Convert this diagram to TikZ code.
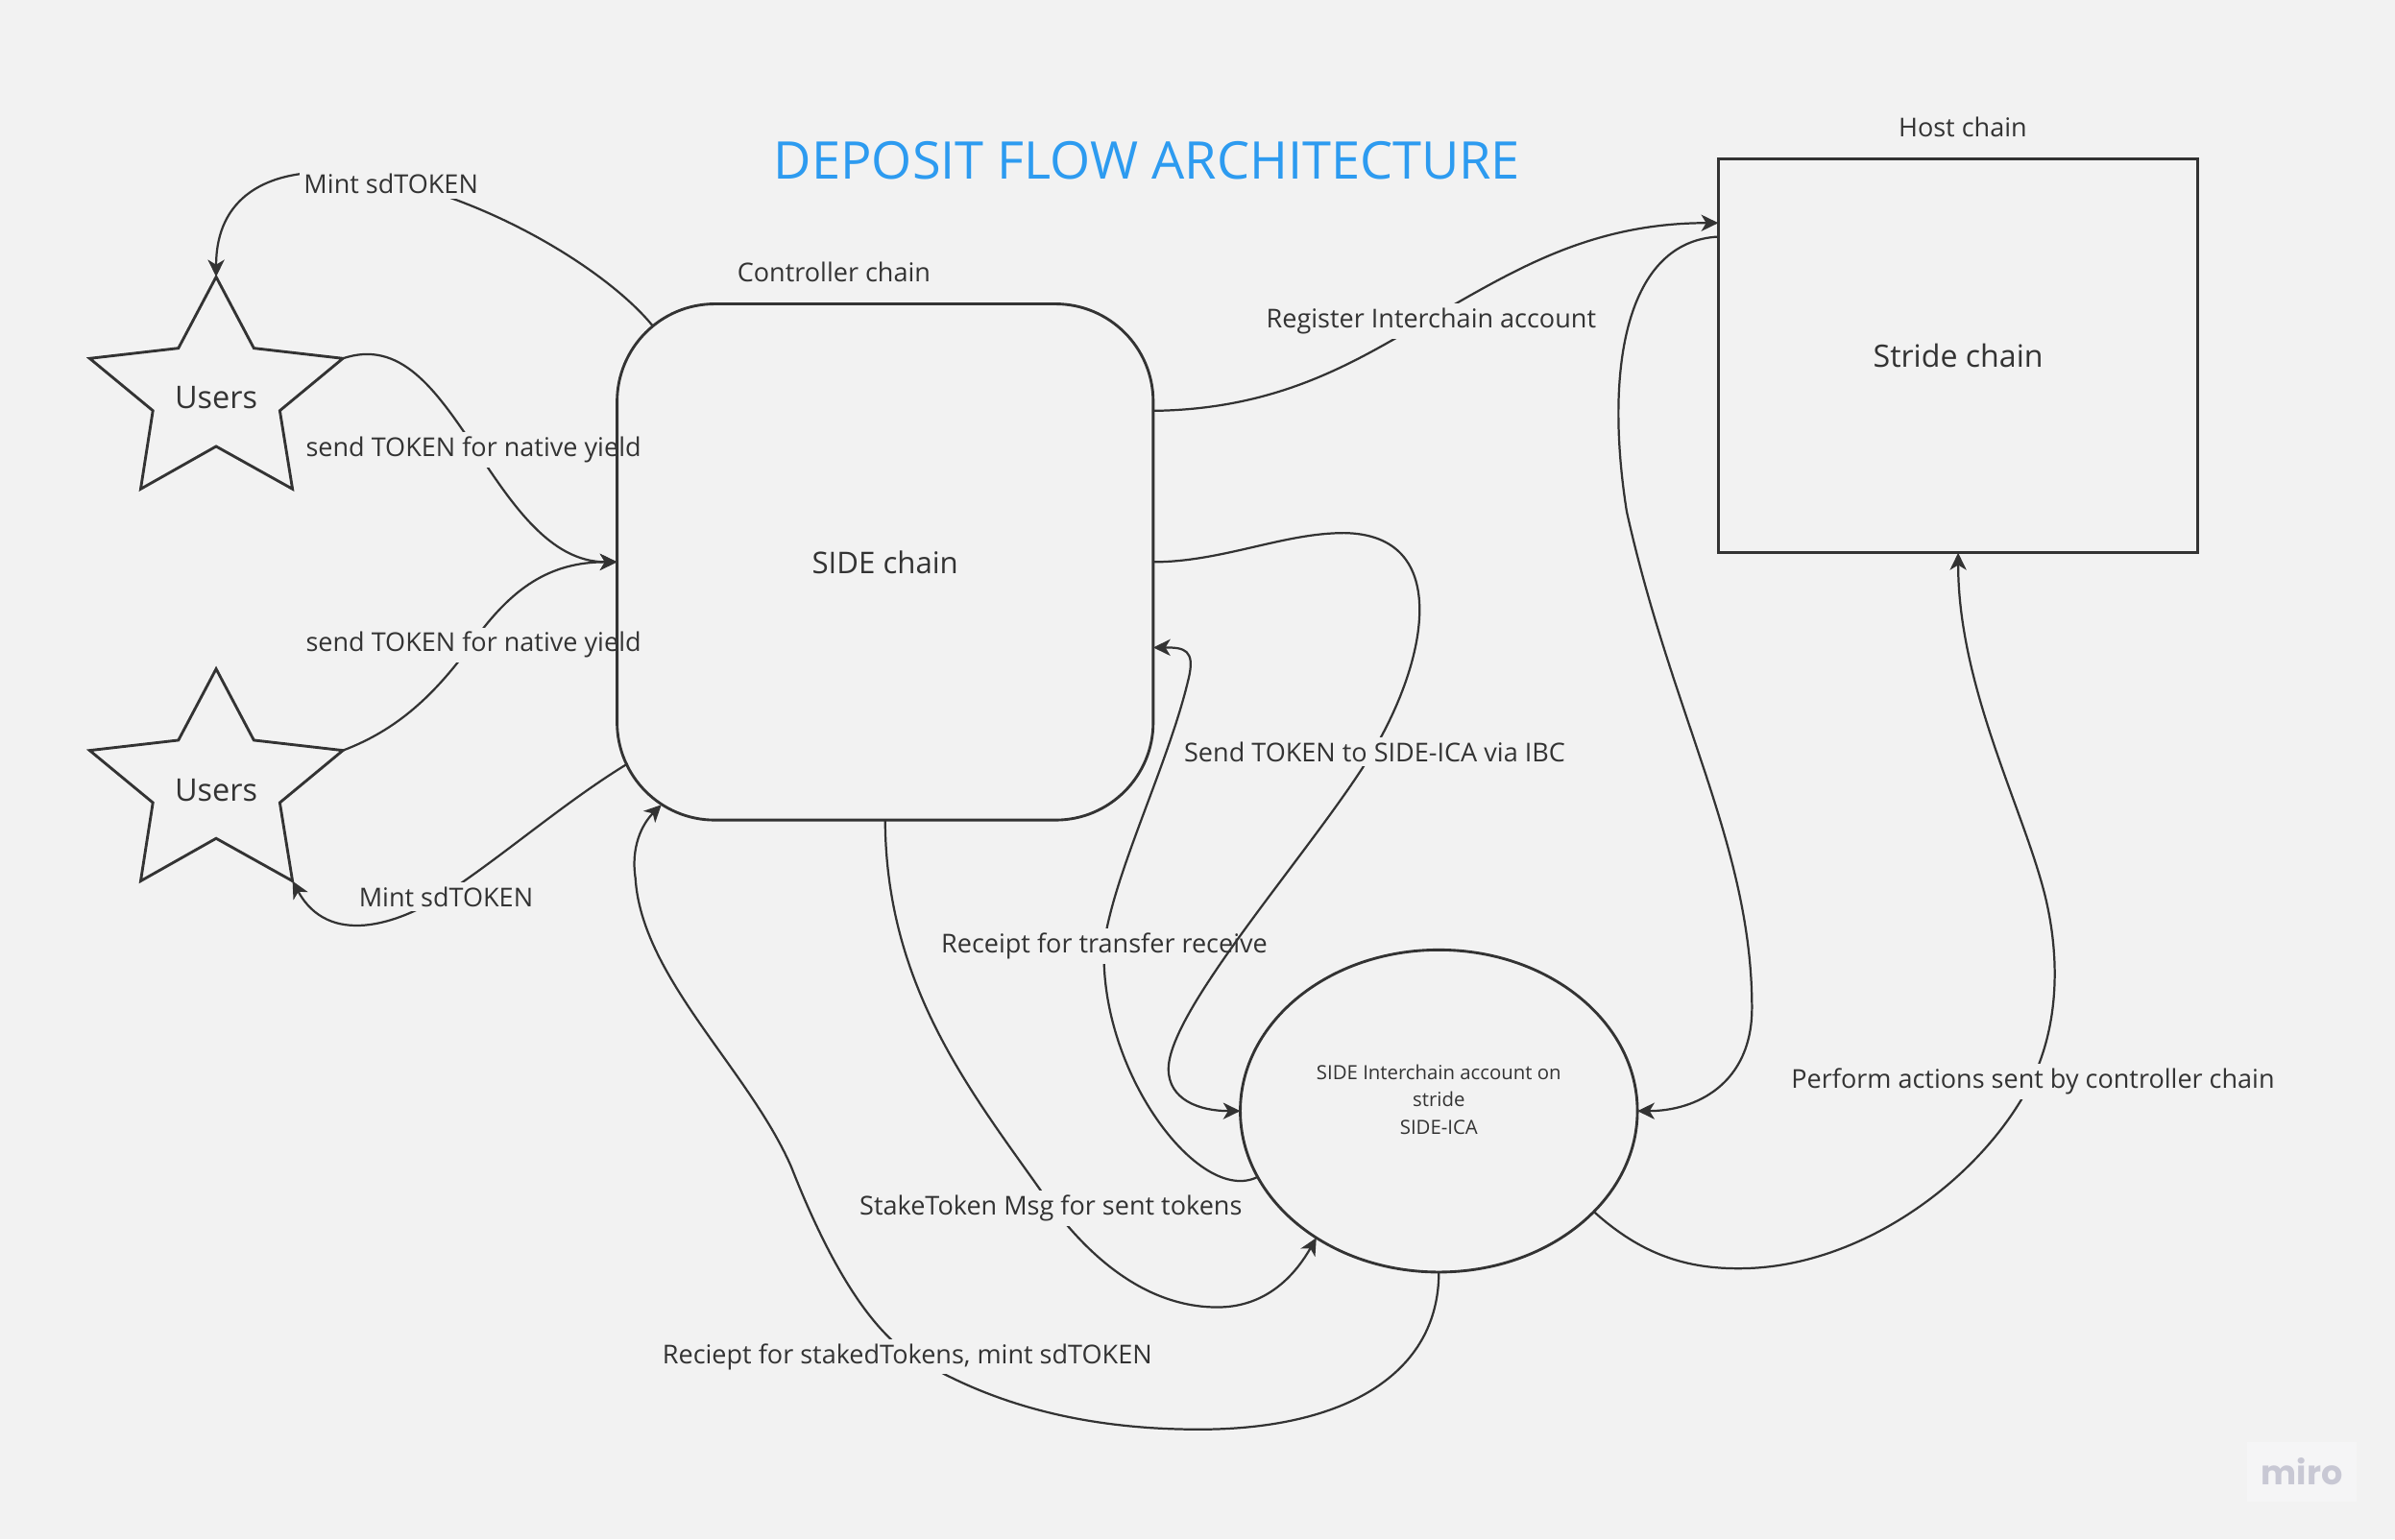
\documentclass[tikz,border=0pt]{standalone}
\usepackage{fontspec}
\setmainfont{Open Sans}
\newfontfamily\wmfont{Poppins}
\usetikzlibrary{arrows.meta,shapes.geometric,calc}
\definecolor{bgc}{RGB}{242,242,242}
\definecolor{ink}{RGB}{51,51,51}
\definecolor{titleblue}{RGB}{45,155,240}
\definecolor{wmtext}{RGB}{200,200,212}
\definecolor{wmbox}{RGB}{245,245,246}
\pgfdeclarelayer{back}
\pgfsetlayers{back,main}
\newcommand\userstar[2]{%
  \begin{scope}[shift={(0,#2)}]
    \coordinate (#1top) at (141.5,181.3);
    \coordinate (#1iur) at (166.2,228);
    \coordinate (#1rt) at (224.5,234.7);
    \coordinate (#1ir) at (183.2,268.9);
    \coordinate (#1br) at (191.5,320.2);
    \coordinate (#1ib) at (141.5,292.3);
    \coordinate (#1bl) at (92.1,320.2);
    \coordinate (#1il) at (100.1,268.9);
    \coordinate (#1lt) at (58.7,234.7);
    \coordinate (#1iul) at (116.8,228);
    \draw[shp] (#1top) -- (#1iur) -- (#1rt) -- (#1ir) -- (#1br) -- (#1ib) -- (#1bl) -- (#1il) -- (#1lt) -- (#1iul) -- cycle;
    \node[font=\fontsize{10.2pt}{12pt}\selectfont, text=ink] (#1text) at (141.5,260.5) {Users};
  \end{scope}}
\begin{document}
\begin{tikzpicture}[x=0.5pt,y=-0.5pt,
  conn/.style={draw=ink, line width=0.7pt},
  arr/.style={-{Stealth[length=5.6pt,width=5.4pt,inset=1.6pt]}},
  lbl/.style={fill=bgc, inner sep=1.5pt, text=ink, yshift=-1.2pt, font=\fontsize{8.5pt}{10pt}\selectfont},
  shp/.style={draw=ink, line width=0.9pt, outer sep=0pt},
  plain/.style={text=ink, yshift=-0.6pt, font=\fontsize{8.5pt}{10pt}\selectfont}]
\useasboundingbox (0,0) rectangle (1568,1008);
\begin{pgfonlayer}{back}
\fill[bgc] (0,0) rectangle (1568,1008);
\end{pgfonlayer}

% title and captions
\node[text=titleblue, yshift=-0.6pt, font=\fontsize{17pt}{20pt}\selectfont] (title) at (751,104) {DEPOSIT FLOW ARCHITECTURE};
\node[plain] (ctrl) at (546,177) {Controller chain};
\node[plain] (host) at (1285,82) {Host chain};

% shapes
\node[shp, rectangle, rounded corners=32pt, minimum width=175.5pt, minimum height=169pt, font=\fontsize{9.8pt}{12pt}\selectfont, text=ink] (side) at (579.5,368) {\raisebox{-0.6pt}{SIDE chain}};
\node[shp, rectangle, minimum width=157pt, minimum height=129pt, font=\fontsize{10.1pt}{12pt}\selectfont, text=ink] (stride) at (1282,233) {\raisebox{-0.8pt}{Stride chain}};
\node[shp, ellipse, minimum width=130pt, minimum height=105.5pt, inner sep=0pt] (ica) at (942,727.5) {};
\node[align=center, text=ink, font=\fontsize{6.4pt}{9pt}\selectfont] (icatext) at (942,720) {SIDE Interchain account on\\stride\\SIDE-ICA};
\userstar{sa}{0}
\userstar{sb}{256.7}

% attachment points
\coordinate (c1s) at ($(side.north west)+(23,14)$);
\coordinate (c4s) at ($(side.south west)+(7,-37)$);
\coordinate (c8e) at ($(side.south west)+(29,-10)$);
\coordinate (c5s) at ($(side.north east)+(0,70)$);
\coordinate (c11e) at ($(side.east)+(0,56)$);
\coordinate (c5e) at ($(stride.north west)+(0,42)$);
\coordinate (c6s) at ($(stride.north west)+(0,51)$);

\begin{pgfonlayer}{back}
\draw[conn,arr] (c1s) .. controls (400,180) and (330,135) .. (256,118) node[lbl] (l1) {Mint sdTOKEN}
  .. controls (190,103) and (141.5,120) .. (satop);
\draw[conn,arr] (sart) .. controls (262,222) and (285,255) .. (310,292) node[lbl] (l2) {send TOKEN for native yield}
  .. controls (335,330) and (360,368) .. (side.west);
\draw[conn,arr] (sbrt) .. controls (260,478) and (285,455) .. (310,420) node[lbl] (l3) {send TOKEN for native yield}
  .. controls (335,385) and (360,368) .. (side.west);
\draw[conn,arr] (c4s) .. controls (370,525) and (330,560) .. (292,585) node[lbl] (l4) {Mint sdTOKEN}
  .. controls (260,606) and (215,620) .. (sbbr);
\draw[conn,arr] (c5s) .. controls (840,268) and (890,235) .. (937,208) node[lbl] (l5) {Register Interchain account}
  .. controls (990,178) and (1040,146) .. (c5e);
\draw[conn,arr] (c6s) .. controls (1065,158) and (1050,240) .. (1065,335)
  .. controls (1095,470) and (1147,555) .. (1147,660)
  .. controls (1147,710) and (1110,727.5) .. (ica.east);
\draw[conn,arr] (ica.327.5) .. controls (1075,822) and (1105,831) .. (1140,830.6)
  .. controls (1220,830) and (1300,770) .. (1331,706) node[lbl] (l10) {Perform actions sent by controller chain}
  .. controls (1350,665) and (1347,620) .. (1339,587)
  .. controls (1325,530) and (1282,450) .. (stride.south);
\draw[conn,arr] (ica.south) .. controls (942,900) and (880,936) .. (785,936)
  .. controls (700,936) and (640,915) .. (594,886) node[lbl] (l9) {Reciept for stakedTokens, mint sdTOKEN}
  .. controls (565,865) and (540,820) .. (518,764)
  .. controls (490,700) and (420,640) .. (416,575)
  .. controls (413,555) and (420,540) .. (c8e);
\draw[conn,arr] (side.south) .. controls (580,650) and (640,720) .. (688,789) node[lbl] (l8) {StakeToken Msg for sent tokens}
  .. controls (730,845) and (770,856) .. (797,856)
  .. controls (825,856) and (845,840) .. (ica.226.6);
\draw[conn,arr] (ica.200) .. controls (785,790) and (718,700) .. (723,617) node[lbl] (l7) {Receipt for transfer receive}
  .. controls (730,570) and (765,500) .. (778,445)
  .. controls (783,425) and (775,424) .. (c11e);
\draw[conn,arr] (side.east) .. controls (800,368) and (840,349) .. (880,349)
  .. controls (950,350) and (935,430) .. (900,490) node[lbl] (l6) {Send TOKEN to SIDE-ICA via IBC}
  .. controls (865,550) and (765,660) .. (765,700)
  .. controls (765,720) and (785,727.5) .. (ica.west);
\end{pgfonlayer}

% watermark
\node[fill=wmbox, minimum width=36pt, minimum height=19.5pt, inner sep=0pt, text=wmtext, font=\wmfont\bfseries\fontsize{11pt}{12pt}\selectfont] (wm) at (1507,963.5) {miro};
\end{tikzpicture}
\end{document}
